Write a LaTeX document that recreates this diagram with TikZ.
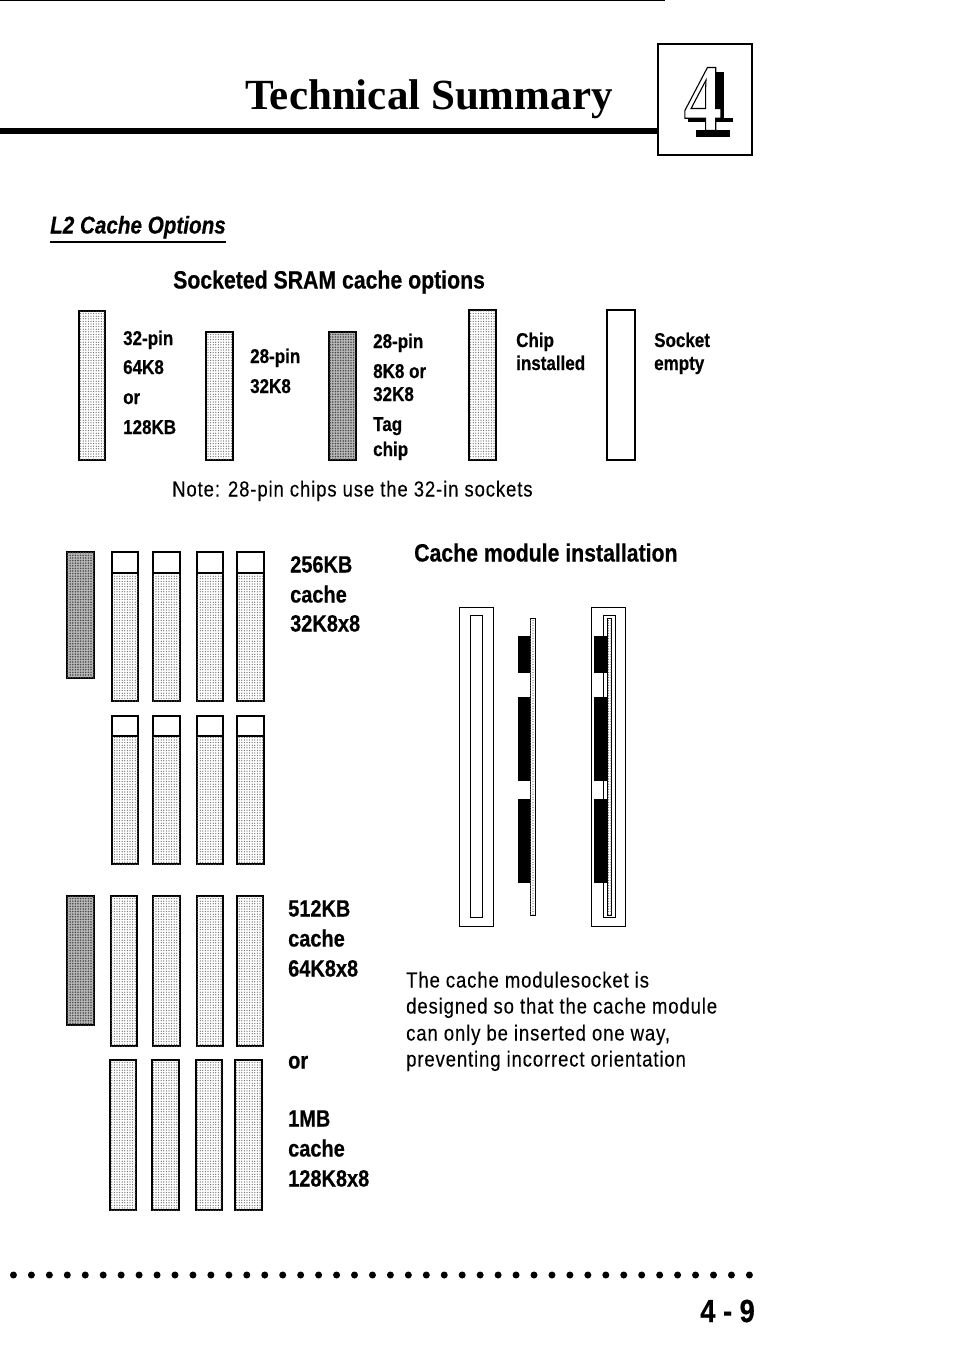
\documentclass[tikz,border=0pt]{standalone}
\usepackage{fontspec}
\usetikzlibrary{patterns.meta}
\setmainfont{Liberation Sans}
\newfontfamily\narrowfont[FakeStretch=0.85,BoldFeatures={FakeBold=0.5},BoldItalicFeatures={FakeBold=0.5}]{Liberation Sans}
\newfontfamily\notefont[FakeStretch=0.85,LetterSpace=4,FakeBold=0.2]{Liberation Sans}
\newfontfamily\titlefont{Liberation Serif}
\newcommand{\labelsize}{\fontsize{20}{20}\selectfont}
\newcommand{\bigsize}{\fontsize{23.5}{23.5}\selectfont}
\tikzset{
  chiplight/.style={draw, line width=1.1pt, fill=white, postaction={pattern={Dots[distance=2.6pt,radius=0.62pt]}, pattern color=black!62}},
  chipdark/.style={draw, line width=1.4pt, fill=black!28, postaction={pattern={Dots[distance=2.6pt,radius=0.85pt]}, pattern color=black!72}},
  chiptag/.style={font=\narrowfont\bfseries\labelsize, anchor=west, inner sep=0pt, text height=14pt, text depth=0pt},
  cachetag/.style={font=\narrowfont\bfseries\bigsize, anchor=west, inner sep=0pt, text height=17pt, text depth=0pt},
  headtag/.style={font=\narrowfont\bfseries\fontsize{25}{25}\selectfont, anchor=west, inner sep=0pt, text height=17pt, text depth=0pt},
  notetag/.style={font=\notefont\fontsize{21.8}{21.8}\selectfont, anchor=west, inner sep=0pt, text height=15pt, text depth=0pt},
  frame/.style={draw, line width=1.1pt},
  slotframe/.style={draw, line width=0.8pt},
  solidchip/.style={fill=black}
}
\begin{document}
\begin{tikzpicture}[x=1pt, y=-1pt]
        \useasboundingbox (0,0) rectangle (954,1351);

        % Header
        \draw[line width=1pt] (0,0.5) -- (665,0.5);
        \draw[line width=6pt] (0,131) -- (658,131);
        \draw[line width=1.2pt, fill=white] (658,44) rectangle (752,155);
        \node[font=\titlefont\bfseries\fontsize{43}{43}\selectfont, anchor=base west, inner sep=0pt] (title) at (245,110) {Technical Summary};
        % chapter figure, with its shadow
        \fill (715,72) rectangle (724,118);
        \fill (688,118) rectangle (733,122);
        \fill (696,130) rectangle (730,137);
        \node[font=\titlefont\bfseries\fontsize{96}{96}\selectfont, anchor=center, inner sep=0pt, xscale=0.8] (chapter) at (703,99) {\special{pdf:code 2 Tr 1.3 w 1 g}4\special{pdf:code 0 Tr 0 g}};

        % Section heading
        \node[font=\narrowfont\bfseries\itshape\fontsize{24.3}{24.3}\selectfont, anchor=west, inner sep=0pt, text height=17pt, text depth=0pt] (section) at (50,225) {L2 Cache Options};
        \draw[line width=1.5pt] (50,242) -- (226,242);
        \node[headtag] (socketed) at (173,280) {Socketed SRAM cache options};

        % Chip types
        \draw[chiplight] (79,311) rectangle (105,460);
        \draw[chiplight] (206,332) rectangle (233,460);
        \draw[chipdark] (329,332) rectangle (356,460);
        \draw[chiplight] (469,310) rectangle (496,460);
        \draw[frame] (607,310) rectangle (635,460);

        \node[chiptag] (a1) at (123,338) {32-pin};
        \node[chiptag] (a2) at (123,367) {64K8};
        \node[chiptag] (a3) at (123,397) {or};
        \node[chiptag] (a4) at (123,427) {128KB};
        \node[chiptag] (b1) at (250,356) {28-pin};
        \node[chiptag] (b2) at (250,386) {32K8};
        \node[chiptag] (c1) at (373,341) {28-pin};
        \node[chiptag] (c2) at (373,371) {8K8 or};
        \node[chiptag] (c3) at (373,394) {32K8};
        \node[chiptag] (c4) at (373,424) {Tag};
        \node[chiptag] (c5) at (373,449) {chip};
        \node[chiptag] (d1) at (516,340) {Chip};
        \node[chiptag] (d2) at (516,363) {installed};
        \node[chiptag] (e1) at (654,340) {Socket};
        \node[chiptag] (e2) at (654,363) {empty};
        \node[notetag] (note) at (172,489) {Note: 28-pin chips use the 32-in sockets};

        % 256KB
        \draw[chipdark] (67,552) rectangle (94,678);
        \foreach \x/\w in {112/26, 153/27, 197/26, 237/27} {
          \draw[chiplight] (\x,573) rectangle (\x+\w,701);
          \draw[frame] (\x,552) rectangle (\x+\w,573);
          \draw[chiplight] (\x,736) rectangle (\x+\w,864);
          \draw[frame] (\x,716) rectangle (\x+\w,736);
        }
        \node[cachetag] (k1) at (290,564) {256KB};
        \node[cachetag] (k2) at (290,594) {cache};
        \node[cachetag] (k3) at (290,623) {32K8x8};

        % 512KB and 1MB
        \draw[chipdark] (67,896) rectangle (94,1025);
        \foreach \x/\w in {111/26, 153/27, 197/26, 237/26} \draw[chiplight] (\x,896) rectangle (\x+\w,1046);
        \foreach \x/\w in {110/26, 152/27, 196/26, 235/27} \draw[chiplight] (\x,1060) rectangle (\x+\w,1210);
        \node[cachetag] (m1) at (288,908) {512KB};
        \node[cachetag] (m2) at (288,938) {cache};
        \node[cachetag] (m3) at (288,968) {64K8x8};
        \node[cachetag] (m4) at (288,1060) {or};
        \node[cachetag] (n1) at (288,1118) {1MB};
        \node[cachetag] (n2) at (288,1148) {cache};
        \node[cachetag] (n3) at (288,1178) {128K8x8};

        % Module installation
        \node[headtag] (install) at (414,553) {Cache module installation};
        \draw[slotframe] (459,607) rectangle (493,926);
        \draw[slotframe] (470,615) rectangle (482,917);
        \draw[chiplight, line width=0.8pt] (530,618) rectangle (535,915);
        \foreach \y/\h in {636/37, 697/84, 799/84} \fill[solidchip] (518,\y) rectangle (530,\y+\h);
        \draw[slotframe] (591,607) rectangle (625,926);
        \draw[slotframe] (603,615) rectangle (615,917);
        \draw[chiplight, line width=0.8pt] (607,618) rectangle (611,915);
        \foreach \y/\h in {636/37, 697/84, 799/84} \fill[solidchip] (594,\y) rectangle (607,\y+\h);

        \node[notetag] (p1) at (406,980) {The cache modulesocket is};
        \node[notetag] (p2) at (406,1006) {designed so that the cache module};
        \node[notetag] (p3) at (406,1033) {can only be inserted one way,};
        \node[notetag] (p4) at (406,1059) {preventing incorrect orientation};

        % Footer
        \foreach \i in {0,...,42} \fill (-4.5+\i*17.95,1275) circle (3.5);
        \node[font=\narrowfont\bfseries\fontsize{32}{32}\selectfont, anchor=east, inner sep=0pt] (pageno) at (755,1311) {4 - 9};

\end{tikzpicture}
\end{document}
